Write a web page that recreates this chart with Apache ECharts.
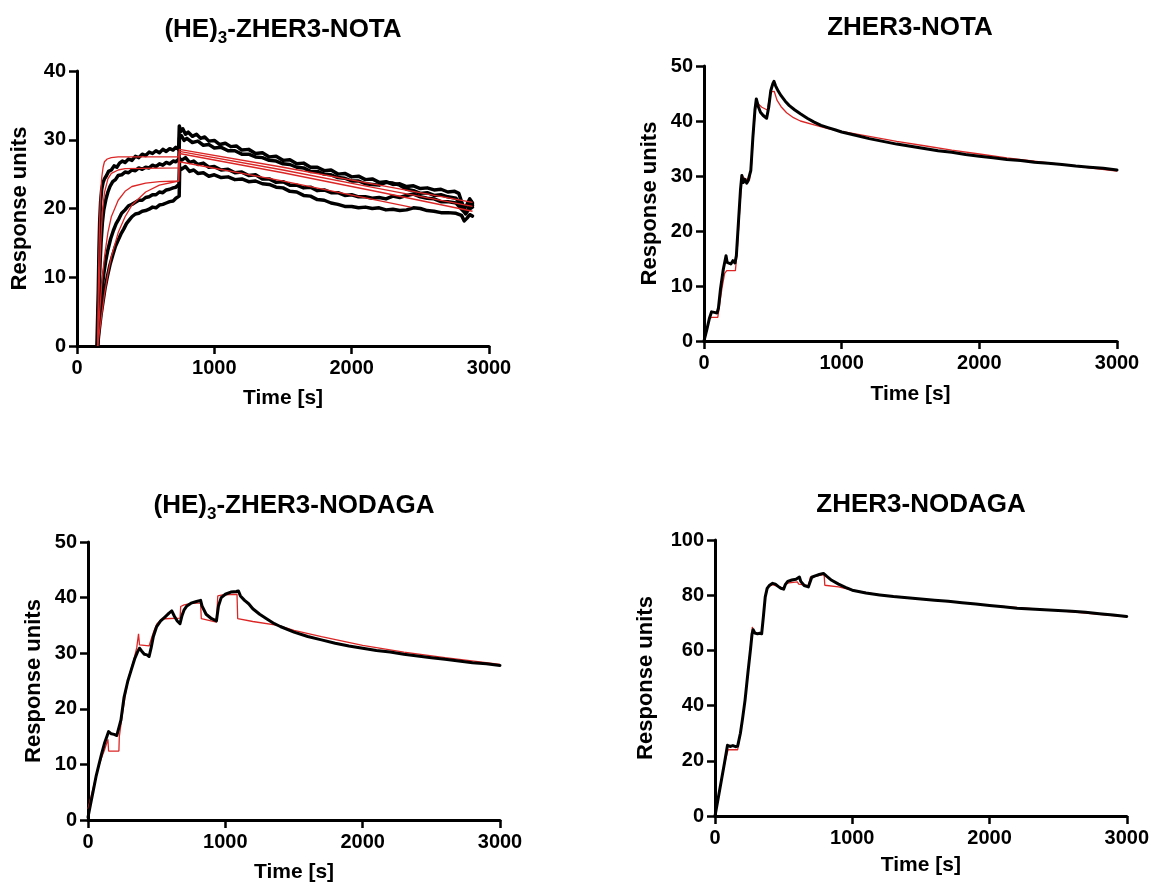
<!DOCTYPE html>
<html><head><meta charset="utf-8">
<script src="https://cdn.jsdelivr.net/npm/echarts@6/dist/echarts.min.js"></script>
<style>html,body{margin:0;padding:0;background:#fff}#c{width:1152px;height:885px}</style>
</head><body><div id="c"></div>
<script>
// ---------- text ----------
const panelTitles = [
  ['(HE)', '3', '-ZHER3-NOTA'],
  ['ZHER3-NOTA', '', ''],
  ['(HE)', '3', '-ZHER3-NODAGA'],
  ['ZHER3-NODAGA', '', '']
];
const xAxisName = 'Time [s]';
const yAxisName = 'Response units';
const xTicks = [0, 1000, 2000, 3000];
const yMaxes = [40, 50, 50, 100];
const ySteps = [10, 10, 10, 20];

// ---------- panel 1: (HE)3-ZHER3-NOTA, [time s, RU] ----------
const p1BlackA = [[145,0],[150,0],[155,8],[160,14],[165,18],[172,21],[180,22.8],[190,23.8],[200,24.3],[215,24.8],[230,25.4],[250,25.6],[270,26.2],[290,26.0],[310,26.6],[330,26.9],[350,26.7],[375,27.2],[400,27.0],[425,27.6],[450,27.4],[475,27.9],[500,27.7],[525,28.2],[550,28.0],[575,28.4],[600,28.1],[625,28.6],[650,28.3],[675,28.7],[700,28.5],[720,28.9],[740,28.6],[745,32.0],[755,31.2],[770,31.6],[790,30.8],[810,31.1],[840,30.5],[870,30.8],[900,30.2],[930,30.4],[960,29.8],[1000,29.9],[1040,29.3],[1080,29.5],[1120,29.0],[1160,29.1],[1200,28.5],[1250,28.6],[1300,28.0],[1350,28.1],[1400,27.5],[1450,27.6],[1500,27.0],[1550,27.1],[1600,26.5],[1650,26.6],[1700,26.0],[1750,26.0],[1800,25.5],[1850,25.6],[1900,25.0],[1950,25.1],[2000,24.6],[2050,24.7],[2100,24.2],[2150,24.3],[2200,23.8],[2250,23.9],[2300,23.5],[2350,23.6],[2400,23.2],[2450,23.3],[2500,22.9],[2550,23.0],[2600,22.7],[2650,22.8],[2700,22.4],[2750,22.5],[2780,22.2],[2800,21.0],[2820,20.0],[2840,20.6],[2860,21.4],[2880,20.8]];
const p1BlackB = [[150,0],[155,4],[160,8],[168,12],[175,15],[185,18],[195,19.8],[210,21.3],[225,22.4],[240,23.2],[260,23.9],[280,24.2],[300,24.8],[325,24.9],[350,25.3],[375,25.2],[400,25.6],[425,25.5],[450,25.9],[475,25.7],[500,26.0],[525,25.9],[550,26.3],[575,26.1],[600,26.5],[625,26.3],[650,26.7],[675,26.5],[700,26.9],[720,26.8],[742,27.2],[746,30.2],[760,30.6],[780,29.9],[800,30.2],[840,29.6],[880,29.8],[920,29.2],[960,29.3],[1000,28.8],[1050,28.9],[1100,28.4],[1150,28.4],[1200,27.9],[1250,27.9],[1300,27.5],[1350,27.4],[1400,27.0],[1450,26.9],[1500,26.5],[1550,26.4],[1600,26.0],[1650,25.9],[1700,25.4],[1750,25.4],[1800,25.0],[1850,24.9],[1900,24.5],[1950,24.4],[2000,24.0],[2050,24.0],[2100,23.6],[2150,23.5],[2200,23.4],[2250,23.8],[2300,23.7],[2350,23.4],[2400,22.8],[2450,22.6],[2500,22.2],[2550,22.3],[2600,21.9],[2650,22.0],[2700,21.7],[2760,21.5],[2800,20.4],[2830,19.2],[2850,20.0],[2870,21.0],[2880,20.5]];
const p1BlackC = [[150,0],[160,3],[170,6],[180,8],[195,10.5],[210,12.5],[225,14],[245,15.6],[265,16.8],[285,17.8],[305,18.5],[325,19.3],[350,19.8],[375,20.4],[400,20.6],[425,20.9],[450,21.2],[475,21.2],[500,21.6],[525,21.7],[550,22.0],[575,22.0],[600,22.4],[625,22.3],[650,22.7],[675,22.8],[700,23.0],[720,23.1],[743,23.5],[747,27.3],[760,27.0],[790,27.4],[820,26.7],[850,26.9],[880,26.4],[920,26.6],[960,26.0],[1000,26.1],[1050,25.6],[1100,25.7],[1150,25.2],[1200,25.3],[1250,24.8],[1300,24.9],[1350,24.3],[1400,24.3],[1450,23.8],[1500,23.9],[1550,23.4],[1600,23.4],[1650,23.0],[1700,23.1],[1750,22.6],[1800,22.7],[1850,22.3],[1900,22.3],[1950,21.9],[2000,22.0],[2050,21.7],[2100,21.7],[2150,21.5],[2200,21.6],[2250,21.4],[2300,21.8],[2350,21.6],[2400,21.9],[2450,22.1],[2500,21.7],[2550,21.5],[2600,21.4],[2650,21.0],[2700,21.0],[2760,20.8],[2800,19.9],[2830,19.3],[2850,19.8],[2880,20.2]];
const p1BlackD = [[150,0],[160,2],[175,4.5],[190,6.5],[205,8.5],[220,10],[240,11.8],[260,13.2],[280,14.5],[300,15.4],[320,16.3],[340,17.0],[360,17.8],[380,18.3],[400,18.8],[425,19.2],[450,19.3],[475,19.6],[500,19.7],[525,19.9],[550,20.2],[575,20.1],[600,20.5],[625,20.6],[650,20.8],[675,21.0],[700,21.1],[720,21.5],[744,21.8],[748,26.0],[760,25.7],[790,26.1],[820,25.4],[850,25.6],[880,25.1],[920,25.2],[960,24.7],[1000,24.9],[1050,24.5],[1100,24.6],[1150,24.2],[1200,24.3],[1250,23.9],[1300,24.0],[1350,23.6],[1400,23.5],[1450,23.1],[1500,23.0],[1550,22.5],[1600,22.4],[1650,21.9],[1700,21.8],[1750,21.3],[1800,21.2],[1850,20.8],[1900,20.6],[1950,20.3],[2000,20.3],[2050,20.1],[2100,20.2],[2150,20.0],[2200,20.1],[2250,19.8],[2300,19.9],[2350,19.7],[2400,19.8],[2450,20.1],[2500,20.0],[2550,19.7],[2600,19.6],[2650,19.4],[2700,19.4],[2760,19.3],[2800,19.0],[2820,18.2],[2840,18.6],[2860,19.1],[2880,18.9]];
const p1FitA = [[150,0],[155,8],[160,14],[165,18.5],[170,21.5],[180,24.5],[190,26],[200,26.8],[220,27.2],[250,27.4],[300,27.5],[740,27.5],[745,28.6],[1500,26.0],[2200,23.4],[2880,20.9]];
const p1FitB = [[150,0],[158,6],[165,11],[175,16],[185,19.5],[200,22.3],[225,24.3],[250,25.1],[300,25.6],[350,25.8],[740,25.9],[745,28.3],[1500,25.6],[2200,22.9],[2880,20.3]];
const p1FitC = [[150,0],[165,5],[180,9],[200,13],[225,16.5],[250,18.8],[300,21.2],[350,22.5],[400,23.2],[500,23.7],[600,23.9],[740,24.0],[745,28.0],[1500,25.2],[2200,22.4],[2880,19.6]];
const p1FitD = [[150,0],[170,3],[200,7.5],[225,10.5],[250,13],[300,16.5],[350,18.8],[400,20.5],[500,22.4],[600,23.4],[740,24.0],[745,26.8],[1476,24.1],[2430,20.2]];

// ---------- panel 2: ZHER3-NOTA ----------
const p2Black = [[0,0],[20,2],[40,4.2],[55,5.3],[65,5.0],[75,5.2],[85,4.9],[95,5.1],[105,6],[120,9.5],[140,13],[160,15.5],[168,14.3],[180,14.5],[195,14.0],[210,14.6],[225,14.2],[235,15.5],[250,21.5],[265,27.5],[275,30.1],[285,28.8],[295,29.4],[310,28.7],[320,29.1],[330,28.8],[340,31],[355,37],[370,42],[380,44.0],[395,42.6],[410,41.6],[430,41.0],[455,40.5],[470,42.5],[485,45.5],[500,46.8],[508,47.2],[520,46.4],[540,45.4],[560,44.6],[590,43.6],[620,42.8],[660,42.0],[700,41.3],[750,40.5],[800,39.8],[850,39.2],[900,38.8],[950,38.4],[1000,38.0],[1100,37.4],[1200,36.8],[1300,36.3],[1400,35.8],[1500,35.4],[1600,35.0],[1700,34.6],[1800,34.3],[1900,33.9],[2000,33.6],[2100,33.3],[2200,33.0],[2300,32.8],[2400,32.5],[2500,32.3],[2600,32.1],[2700,31.8],[2800,31.6],[2900,31.4],[3000,31.1]];
const p2Fit = [[0,0],[20,2],[40,4],[55,4.3],[100,4.3],[110,6],[130,9.5],[150,12.3],[165,12.8],[228,12.8],[240,16],[255,22],[270,28],[280,30],[290,29.6],[330,29.2],[345,32],[360,38],[375,42.5],[385,43.3],[420,42.5],[460,42.0],[470,43.5],[485,45.3],[495,45.6],[510,45.4],[530,43.8],[560,42.6],[600,41.5],[650,40.6],[700,40.0],[800,39.3],[900,38.6],[1000,38.1],[1200,37.2],[1400,36.3],[1600,35.5],[1800,34.7],[2000,34.0],[2200,33.3],[2400,32.7],[2600,32.1],[2800,31.5],[3000,30.9]];

// ---------- panel 3: (HE)3-ZHER3-NODAGA ----------
const p3Black = [[0,0.5],[20,3],[40,5.5],[60,8],[80,10],[100,12],[120,13.8],[140,15.2],[150,15.9],[170,15.5],[190,15.4],[210,15.2],[222,15.0],[240,18],[262,22],[290,25],[315,27],[340,29],[360,30.2],[375,30.9],[390,30.4],[410,29.8],[430,29.7],[445,29.4],[460,31],[476,33],[500,34.8],[529,35.8],[560,36.5],[590,37.2],[610,37.6],[630,36.6],[650,35.8],[670,35.3],[685,36.8],[700,37.8],[720,38.5],[750,39.0],[790,39.3],[820,39.5],[830,38.5],[860,37],[900,36.2],[935,35.8],[950,38.5],[970,40],[1000,40.6],[1040,41],[1080,41.1],[1095,41.2],[1110,40.3],[1140,39.5],[1170,38.9],[1200,38.0],[1250,37.0],[1300,36.2],[1357,35.3],[1400,34.8],[1500,33.8],[1600,33.0],[1700,32.4],[1800,31.8],[1900,31.3],[2000,30.9],[2100,30.5],[2200,30.2],[2300,29.8],[2400,29.5],[2500,29.2],[2600,28.9],[2700,28.6],[2800,28.3],[2900,28.1],[3000,27.8]];
const p3Fit = [[0,2],[20,4],[40,6],[60,8],[80,9.8],[100,11.3],[120,12.6],[145,14.5],[150,12.4],[225,12.4],[228,15],[250,19],[275,23],[300,26],[330,28.5],[355,31],[368,33.5],[375,31.5],[445,31.3],[460,32.5],[480,34],[500,35.2],[530,36],[560,36.2],[670,36.3],[675,38.4],[700,38.7],[760,39],[820,39],[825,36.2],[935,35.6],[945,40.3],[980,40.5],[1085,40.6],[1090,36.2],[1200,35.7],[1384,35.0],[1500,34.1],[1700,33.0],[2000,31.4],[2300,30.2],[2600,29.2],[2900,28.3],[3000,28.0]];

// ---------- panel 4: ZHER3-NODAGA ----------
const p4Black = [[0,0],[20,5.5],[45,12.5],[70,19.5],[91,25.6],[110,25.2],[130,25.5],[150,25.1],[165,25.3],[185,30],[200,35],[219,42],[240,52],[260,61],[270,66],[278,67.5],[290,66.3],[310,66.0],[325,66.2],[340,66.0],[352,72],[366,79.4],[380,82.5],[395,83.5],[420,84.3],[440,84.0],[460,83.2],[480,82.5],[500,82.2],[512,83.8],[530,85.0],[560,85.5],[590,85.8],[615,86.6],[625,85],[650,83.5],[680,83],[690,83.2],[705,86.5],[730,87.0],[760,87.5],[790,87.9],[800,88.0],[815,86.8],[850,85.4],[900,84],[950,82.8],[1000,81.8],[1100,80.8],[1200,80.1],[1300,79.5],[1400,79.1],[1500,78.6],[1600,78.2],[1700,77.8],[1800,77.3],[1900,76.8],[2000,76.3],[2100,75.8],[2200,75.3],[2300,75.0],[2400,74.7],[2500,74.5],[2600,74.2],[2700,73.8],[2800,73.3],[2900,72.8],[3000,72.3]];
const p4Fit = [[0,0],[20,5.3],[45,12.3],[70,19],[95,24],[165,24],[185,30],[219,42],[240,52],[260,62],[272,68.5],[280,66.5],[340,66],[352,72],[366,79],[385,83],[420,83.8],[440,83.5],[470,83],[500,82.5],[515,84.2],[540,84.5],[600,84.8],[610,84],[680,83.5],[695,86.5],[760,87.2],[795,87.5],[800,83.6],[900,83.0],[1000,81.8],[1200,80.1],[1500,78.6],[2000,76.3],[2500,74.4],[3000,72.2]];

const panelBlack = [[p1BlackA, p1BlackB, p1BlackC, p1BlackD], [p2Black], [p3Black], [p4Black]];
const panelFit = [[p1FitA, p1FitB, p1FitC, p1FitD], [p2Fit], [p3Fit], [p4Fit]];

// ---------- layout & style ----------
const FONT = '"Liberation Sans", Arial, Helvetica, sans-serif';
const grids = [
  {left: 77, top: 71, width: 412, height: 275},
  {left: 704, top: 66, width: 413, height: 275},
  {left: 88, top: 542, width: 412, height: 278},
  {left: 715, top: 540, width: 412, height: 276}
];
const titleCenters = [[283, 13], [910, 11], [294, 489], [921, 488]];
const yNameGaps = [46, 43, 43, 58];
const xNameGaps = [42, 43, 42, 39];
const RED = '#dc2626';

const axisCommon = {
  axisLine: {show: true, onZero: false, lineStyle: {color: '#000', width: 3}},
  axisTick: {show: true, inside: false, length: 8, lineStyle: {color: '#000', width: 2.5}},
  splitLine: {show: false},
  axisLabel: {color: '#000', fontSize: 20, fontWeight: 'bold', fontFamily: FONT, formatter: v => String(v)},
  nameLocation: 'middle'
};
const xNameStyle = {color: '#000', fontSize: 21, fontWeight: 'bold', fontFamily: FONT};
const yNameStyle = {color: '#000', fontSize: 22, fontWeight: 'bold', fontFamily: FONT};

const xAxes = grids.map((g, i) => Object.assign({}, axisCommon, {
  type: 'value', gridIndex: i, min: xTicks[0], max: xTicks[xTicks.length - 1], interval: 1000,
  name: xAxisName, nameGap: xNameGaps[i], nameTextStyle: xNameStyle,
  axisLabel: Object.assign({}, axisCommon.axisLabel, {margin: 12})
}));
const yAxes = grids.map((g, i) => Object.assign({}, axisCommon, {
  type: 'value', gridIndex: i, min: 0, max: yMaxes[i], interval: ySteps[i],
  name: yAxisName, nameGap: yNameGaps[i], nameTextStyle: yNameStyle,
  axisLabel: Object.assign({}, axisCommon.axisLabel, {margin: 11})
}));

const series = [];
for (let i = 0; i < 4; i++) {
  const fitOnTop = (i === 0);
  panelBlack[i].forEach(d => series.push({
    type: 'line', xAxisIndex: i, yAxisIndex: i, data: d, symbol: 'none', silent: true,
    lineStyle: {color: '#000', width: i === 0 ? 3.5 : 3, join: 'round', cap: 'round'}, z: fitOnTop ? 2 : 4
  }));
  panelFit[i].forEach(d => series.push({
    type: 'line', xAxisIndex: i, yAxisIndex: i, data: d, symbol: 'none', silent: true,
    lineStyle: {color: RED, width: 1.3}, z: fitOnTop ? 4 : 2
  }));
}

const richTitle = {
  m: {fontSize: 26, fontWeight: 'bold', fontFamily: FONT, color: '#000', lineHeight: 34},
  s: {fontSize: 17, fontWeight: 'bold', fontFamily: FONT, color: '#000', lineHeight: 17, verticalAlign: 'bottom'}
};
const titles = panelTitles.map((t, i) => ({
  text: '{m|' + t[0] + '}' + (t[1] ? '{s|' + t[1] + '}' : '') + (t[2] ? '{m|' + t[2] + '}' : ''),
  left: titleCenters[i][0], top: titleCenters[i][1], textAlign: 'center', padding: 0,
  textStyle: {rich: richTitle}
}));

const chart = echarts.init(document.getElementById('c'), null, {renderer: 'canvas'});
chart.setOption({
  animation: false,
  backgroundColor: '#fff',
  title: titles,
  grid: grids,
  xAxis: xAxes,
  yAxis: yAxes,
  series: series
});
</script></body></html>
